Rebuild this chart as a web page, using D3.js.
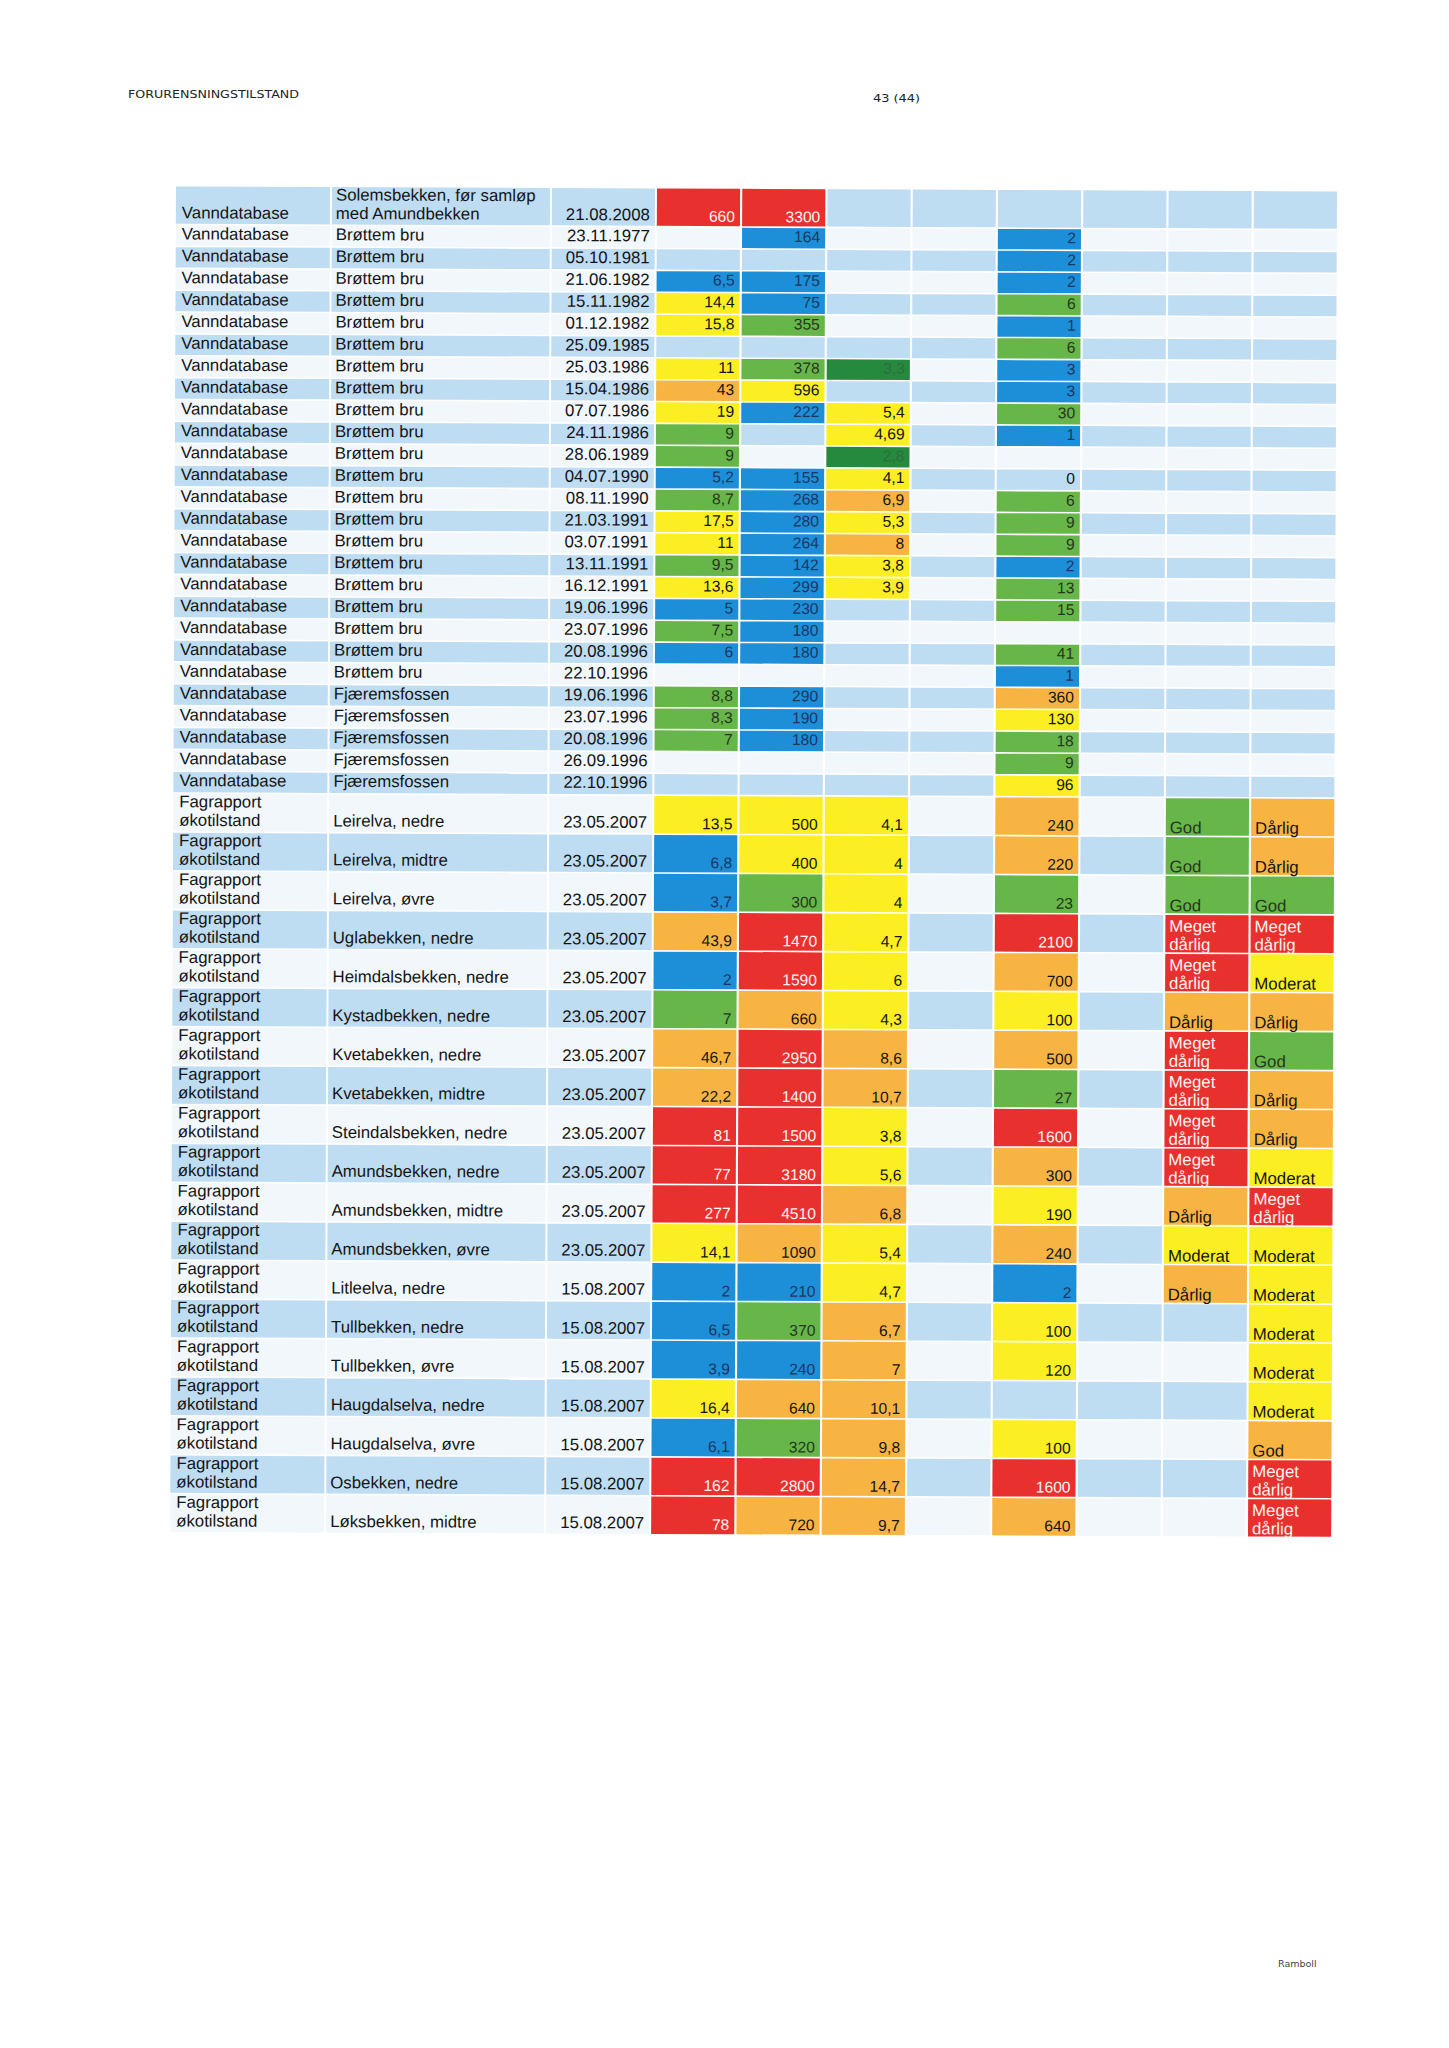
<!DOCTYPE html>
<html><head><meta charset="utf-8">
<script src="https://cdn.jsdelivr.net/npm/d3@7"></script>
<style>body{margin:0;background:#fff}</style>
</head><body>
<script>
// ---------- DATA ----------
const sources = [
 "Vanndatabase","Vanndatabase","Vanndatabase","Vanndatabase","Vanndatabase","Vanndatabase","Vanndatabase","Vanndatabase","Vanndatabase","Vanndatabase",
 "Vanndatabase","Vanndatabase","Vanndatabase","Vanndatabase","Vanndatabase","Vanndatabase","Vanndatabase","Vanndatabase","Vanndatabase","Vanndatabase",
 "Vanndatabase","Vanndatabase","Vanndatabase","Vanndatabase","Vanndatabase","Vanndatabase","Vanndatabase",
 "Fagrapport\nøkotilstand","Fagrapport\nøkotilstand","Fagrapport\nøkotilstand","Fagrapport\nøkotilstand","Fagrapport\nøkotilstand",
 "Fagrapport\nøkotilstand","Fagrapport\nøkotilstand","Fagrapport\nøkotilstand","Fagrapport\nøkotilstand","Fagrapport\nøkotilstand",
 "Fagrapport\nøkotilstand","Fagrapport\nøkotilstand","Fagrapport\nøkotilstand","Fagrapport\nøkotilstand","Fagrapport\nøkotilstand",
 "Fagrapport\nøkotilstand","Fagrapport\nøkotilstand","Fagrapport\nøkotilstand","Fagrapport\nøkotilstand"
];
const sites = [
 "Solemsbekken, før samløp\nmed Amundbekken",
 "Brøttem bru","Brøttem bru","Brøttem bru","Brøttem bru","Brøttem bru","Brøttem bru","Brøttem bru","Brøttem bru","Brøttem bru","Brøttem bru",
 "Brøttem bru","Brøttem bru","Brøttem bru","Brøttem bru","Brøttem bru","Brøttem bru","Brøttem bru","Brøttem bru","Brøttem bru","Brøttem bru","Brøttem bru",
 "Fjæremsfossen","Fjæremsfossen","Fjæremsfossen","Fjæremsfossen","Fjæremsfossen",
 "Leirelva, nedre","Leirelva, midtre","Leirelva, øvre","Uglabekken, nedre","Heimdalsbekken, nedre",
 "Kystadbekken, nedre","Kvetabekken, nedre","Kvetabekken, midtre","Steindalsbekken, nedre","Amundsbekken, nedre",
 "Amundsbekken, midtre","Amundsbekken, øvre","Litleelva, nedre","Tullbekken, nedre","Tullbekken, øvre",
 "Haugdalselva, nedre","Haugdalselva, øvre","Osbekken, nedre","Løksbekken, midtre"
];
const dates = [
 "21.08.2008","23.11.1977","05.10.1981","21.06.1982","15.11.1982","01.12.1982","25.09.1985","25.03.1986","15.04.1986","07.07.1986",
 "24.11.1986","28.06.1989","04.07.1990","08.11.1990","21.03.1991","03.07.1991","13.11.1991","16.12.1991","19.06.1996","23.07.1996",
 "20.08.1996","22.10.1996","19.06.1996","23.07.1996","20.08.1996","26.09.1996","22.10.1996",
 "23.05.2007","23.05.2007","23.05.2007","23.05.2007","23.05.2007","23.05.2007","23.05.2007","23.05.2007","23.05.2007","23.05.2007",
 "23.05.2007","23.05.2007","15.08.2007","15.08.2007","15.08.2007","15.08.2007","15.08.2007","15.08.2007","15.08.2007"
];
const valueColumns = ["A","B","C","D","E","F","G","H"];
const valA = ["660","","","6,5","14,4","15,8","","11","43","19",
 "9","9","5,2","8,7","17,5","11","9,5","13,6","5","7,5",
 "6","","8,8","8,3","7","","","13,5","6,8","3,7",
 "43,9","2","7","46,7","22,2","81","77","277","14,1","2",
 "6,5","3,9","16,4","6,1","162","78"];
const clsA = "R..BYY.YOY"+"GGBGYYGYBG"+"B.GGG..YBB"+"OBGOORRRYB"+"BBYBRR";
const valB = ["3300","164","","175","75","355","","378","596","222",
 "","","155","268","280","264","142","299","230","180",
 "180","","290","190","180","","","500","400","300",
 "1470","1590","660","2950","1400","1500","3180","4510","1090","210",
 "370","240","640","320","2800","720"];
const clsB = "RB.BBG.GYB"+"..BBBBBBBB"+"B.BBB..YYG"+"RRORRRRROB"+"GBOGRO";
const valC = ["","","","","","","","3,3","","5,4",
 "4,69","2,8","4,1","6,9","5,3","8","3,8","3,9","","",
 "","","","","","","","4,1","4","4",
 "4,7","6","4,3","8,6","10,7","3,8","5,6","6,8","5,4","4,7",
 "6,7","7","10,1","9,8","14,7","9,7"];
const clsC = ".......D.Y"+"YDYOYOYY.."+".......YYY"+"YYYOOYYOYY"+"OOOOOO";
const valD = ["","","","","","","","","","", "","","","","","","","","","", "","","","","","","","","","", "","","","","","","","","","", "","","","","",""];
const clsD = ".........."+".........."+".........."+".........."+"......";
const valE = ["","2","2","2","6","1","6","3","3","30",
 "1","","0","6","9","9","2","13","15","",
 "41","1","360","130","18","9","96","240","220","23",
 "2100","700","100","500","27","1600","300","190","240","2",
 "100","120","","100","1600","640"];
const clsE = ".BBBGBGBBG"+"B..GGGBGG."+"GBOYGGYOOG"+"ROYOGROYOB"+"YY.YRO";
const valF = valD.slice();
const clsF = clsD;
const valG = ["","","","","","","","","","", "","","","","","","","","","", "","","","","","","",
 "God","God","God","Meget\ndårlig","Meget\ndårlig","Dårlig","Meget\ndårlig","Meget\ndårlig","Meget\ndårlig","Meget\ndårlig",
 "Dårlig","Moderat","Dårlig","","","","","",""];
const clsG = ".........."+".........."+".......GGG"+"RRORRRROYO"+"......";
const valH = ["","","","","","","","","","", "","","","","","","","","","", "","","","","","","",
 "Dårlig","Dårlig","God","Meget\ndårlig","Moderat","Dårlig","God","Dårlig","Dårlig","Moderat",
 "Meget\ndårlig","Moderat","Moderat","Moderat","Moderat","Moderat","God","Meget\ndårlig","Meget\ndårlig"];
const clsH = ".........."+".........."+".......OOG"+"RYOGOOYRYY"+"YYYORR";

// ---------- STYLE ----------
const fillFor = {R:"#e8302f", B:"#1c8fd8", Y:"#fbee23", G:"#66b64a", O:"#f8b443", D:"#25893e"};
const textFor = {R:"#fff4f0", B:"#1c3763", Y:"#141414", G:"#27361f", O:"#141414", D:"#2e6e3d"};
const stripe = ["#bedcf2", "#f1f7fb"];

const W = 1449, H = 2048;
const svg = d3.select("body").append("svg").attr("width", W).attr("height", H)
  .style("font-family", "'Liberation Sans', Arial, sans-serif");
svg.append("rect").attr("width", W).attr("height", H).attr("fill", "#fff");

// page header/footer
svg.append("text").attr("x", 128).attr("y", 98).attr("font-family", "'DejaVu Sans', sans-serif")
  .attr("font-size", 10.5).attr("fill", "#222").attr("textLength", 171).attr("lengthAdjust", "spacingAndGlyphs")
  .text("FORURENSNINGSTILSTAND");
svg.append("text").attr("x", 873).attr("y", 102).attr("font-family", "'DejaVu Sans', sans-serif")
  .attr("font-size", 10.5).attr("fill", "#222").attr("textLength", 47).attr("lengthAdjust", "spacingAndGlyphs")
  .text("43 (44)");
svg.append("text").attr("x", 1278).attr("y", 1967).attr("font-family", "'DejaVu Sans', sans-serif")
  .attr("font-size", 9.5).attr("fill", "#444").text("Ramboll");

// ---------- SCALES ----------
const n = dates.length;
const isDouble = i => sources[i].includes("\n") || sites[i].includes("\n");
const units = d3.range(n).map(i => isDouble(i) ? 1.78 : 1);
const starts = [0];
units.forEach((u, i) => starts.push(starts[i] + u));
const y = d3.scaleLinear().domain([0, starts[n]]).range([186, 1533]);

const x = d3.scaleBand().domain(valueColumns).range([657, 1337]).paddingInner(0.025).paddingOuter(0);
const textCols = d3.scaleOrdinal().domain(["src", "site", "date"]).range([[176, 330], [332, 550], [552, 655]]);

const vals = {A: valA, B: valB, C: valC, D: valD, E: valE, F: valF, G: valG, H: valH};
const clss = {A: clsA, B: clsB, C: clsC, D: clsD, E: clsE, F: clsF, G: clsG, H: clsH};

// ---------- CELLS ----------
const cells = [];
for (let i = 0; i < n; i++) {
  const base = stripe[i % 2];
  const tc = [["src", sources[i], "start"], ["site", sites[i], "start"], ["date", dates[i], "end"]];
  tc.forEach(([k, t, anchor]) => {
    const [x0, x1] = textCols(k);
    cells.push({row: i, x0, x1, fill: base, text: t, color: "#141414", anchor, kind: k});
  });
  valueColumns.forEach(c => {
    const cl = clss[c][i];
    const v = vals[c][i];
    const x0 = x(c), x1 = x(c) + x.bandwidth();
    const isWord = /[A-Za-zå]/.test(v);
    cells.push({row: i, x0, x1, fill: cl !== "." ? fillFor[cl] : base, text: v,
      color: cl !== "." ? textFor[cl] : "#141414", anchor: isWord ? "start" : "end", kind: isWord ? "grade" : "num"});
  });
}

const g = svg.append("g").attr("transform", "rotate(0.25,176,186)");

g.selectAll("rect.cell").data(cells).join("rect").attr("class", "cell")
  .attr("x", d => d.x0).attr("width", d => d.x1 - d.x0)
  .attr("y", d => y(starts[d.row]) + 0.4)
  .attr("height", d => y(starts[d.row + 1]) - y(starts[d.row]) - 1.6)
  .attr("fill", d => d.fill);

const txt = g.selectAll("text.cell").data(cells.filter(d => d.text)).join("text").attr("class", "cell")
  .attr("font-size", d => (d.kind === "num") ? 15.6 : 16.8)
  .attr("fill", d => d.color)
  .attr("text-anchor", d => d.anchor);

txt.each(function(d) {
  const top = y(starts[d.row]);
  const dbl = isDouble(d.row);
  const lines = d.text.split("\n");
  let tx;
  if (d.kind === "src") tx = d.x0 + 6;
  else if (d.kind === "site") tx = d.x0 + 4;
  else if (d.anchor === "end") tx = d.x1 - 5;
  else tx = d.x0 + 4;
  let last, gap = 18.6;
  if (dbl) {
    if (d.kind === "grade") { last = top + 35.5; gap = 18.3; }
    else if (d.kind === "num") last = top + 33.5;
    else last = top + 32.3;
  } else last = top + 14.5;
  const sel = d3.select(this);
  lines.forEach((ln, k) => {
    sel.append("tspan").attr("x", tx)
      .attr("y", last - (lines.length - 1 - k) * gap)
      .text(ln);
  });
});
</script>
</body></html>
